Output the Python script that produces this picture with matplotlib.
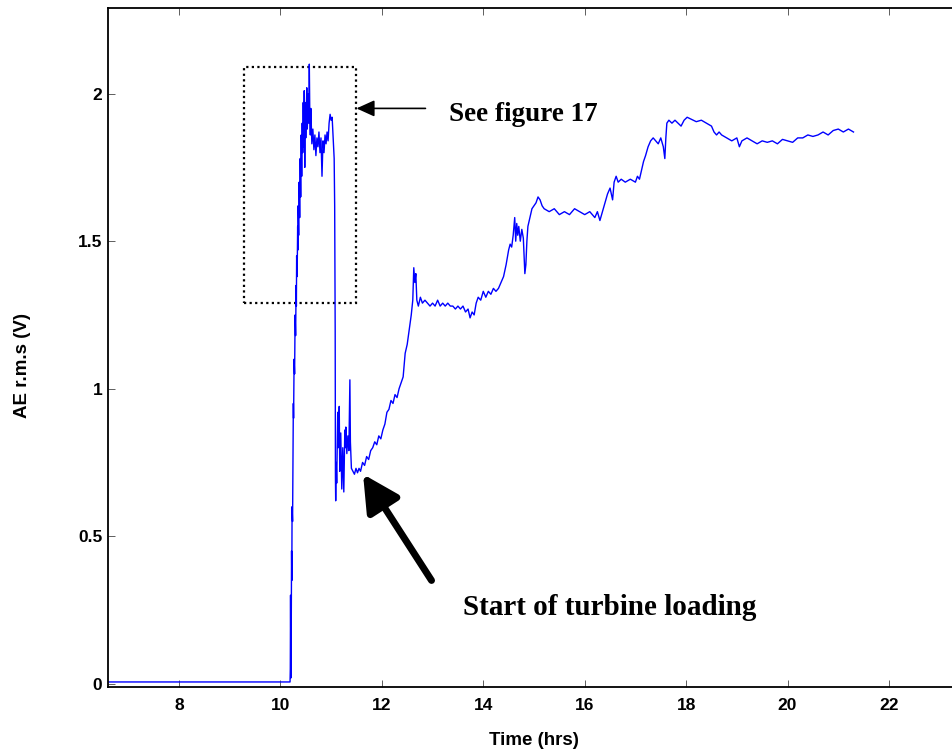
import matplotlib
matplotlib.use("Agg")
import matplotlib.pyplot as plt
from matplotlib.patches import Rectangle

# AE r.m.s trace
time_hrs = [
    6.62, 10.19, 10.195, 10.20, 10.205, 10.21, 10.215, 10.22, 10.225, 10.23,
    10.24, 10.25, 10.255, 10.26, 10.27, 10.28, 10.29, 10.30, 10.31, 10.315,
    10.32, 10.33, 10.34, 10.345, 10.35, 10.36, 10.37, 10.38, 10.39, 10.40,
    10.41, 10.42, 10.43, 10.44, 10.45, 10.46, 10.47, 10.48, 10.49, 10.50,
    10.52, 10.53, 10.55, 10.56, 10.57, 10.58, 10.59, 10.60, 10.62, 10.64,
    10.66, 10.68, 10.70, 10.72, 10.74, 10.76, 10.78, 10.80, 10.82, 10.84,
    10.86, 10.88, 10.90, 10.92, 10.94, 10.96, 10.98, 11.00, 11.02, 11.04,
    11.06, 11.07, 11.08, 11.085, 11.09, 11.10, 11.11, 11.13, 11.14, 11.16,
    11.17, 11.19, 11.21, 11.23, 11.25, 11.27, 11.28, 11.29, 11.31, 11.33,
    11.35, 11.37, 11.38, 11.40, 11.43, 11.46, 11.49, 11.52, 11.55, 11.58,
    11.62, 11.66, 11.70, 11.74, 11.78, 11.82, 11.86, 11.90, 11.94, 11.98,
    12.02, 12.06, 12.10, 12.14, 12.18, 12.22, 12.26, 12.30, 12.34, 12.38,
    12.42, 12.46, 12.50, 12.54, 12.58, 12.61, 12.63, 12.65, 12.67, 12.69,
    12.72, 12.76, 12.80, 12.85, 12.90, 12.95, 13.00, 13.05, 13.10, 13.15,
    13.20, 13.25, 13.30, 13.35, 13.40, 13.45, 13.50, 13.55, 13.60, 13.65,
    13.70, 13.74, 13.78, 13.82, 13.86, 13.90, 13.95, 14.00, 14.05, 14.10,
    14.15, 14.20, 14.25, 14.30, 14.35, 14.40, 14.45, 14.50, 14.53, 14.56,
    14.59, 14.62, 14.64, 14.66, 14.68, 14.70, 14.73, 14.76, 14.79, 14.82,
    14.84, 14.86, 14.88, 14.92, 14.96, 15.00, 15.04, 15.08, 15.12, 15.16,
    15.20, 15.30, 15.40, 15.50, 15.60, 15.70, 15.80, 15.90, 16.00, 16.10,
    16.20, 16.25, 16.30, 16.35, 16.40, 16.45, 16.50, 16.55, 16.58, 16.62,
    16.66, 16.72, 16.80, 16.90, 17.00, 17.04, 17.08, 17.12, 17.16, 17.20,
    17.25, 17.30, 17.35, 17.40, 17.45, 17.50, 17.55, 17.58, 17.60, 17.62,
    17.66, 17.72, 17.78, 17.84, 17.90, 17.96, 18.02, 18.08, 18.14, 18.20,
    18.30, 18.40, 18.50, 18.55, 18.60, 18.65, 18.70, 18.80, 18.90, 19.00,
    19.05, 19.10, 19.20, 19.30, 19.40, 19.50, 19.60, 19.70, 19.80, 19.90,
    20.00, 20.10, 20.20, 20.30, 20.40, 20.50, 20.60, 20.70, 20.80, 20.90,
    21.00, 21.10, 21.20, 21.30,
]
ae_rms = [
    0.006, 0.006, 0.05, 0.30, 0.10, 0.02, 0.20, 0.45, 0.35, 0.60,
    0.55, 0.85, 0.95, 0.90, 1.10, 1.05, 1.25, 1.18, 1.35, 1.28,
    1.45, 1.38, 1.55, 1.47, 1.62, 1.52, 1.70, 1.58, 1.78, 1.65,
    1.86, 1.72, 1.90, 1.80, 1.97, 1.82, 2.01, 1.75, 1.97, 1.85,
    2.02, 1.88, 2.00, 1.90, 2.10, 1.92, 1.86, 1.95, 1.83, 1.88,
    1.81, 1.86, 1.79, 1.85, 1.82, 1.87, 1.80, 1.85, 1.72, 1.84,
    1.80, 1.86, 1.83, 1.87, 1.84, 1.90, 1.93, 1.91, 1.92, 1.85,
    1.78, 1.62, 1.20, 0.70, 0.62, 0.75, 0.68, 0.92, 0.80, 0.94,
    0.72, 0.85, 0.66, 0.80, 0.65, 0.86, 0.80, 0.87, 0.78, 0.84,
    0.79, 1.03, 0.82, 0.73, 0.72, 0.71, 0.73, 0.715, 0.73, 0.72,
    0.75, 0.74, 0.77, 0.76, 0.79, 0.80, 0.82, 0.81, 0.84, 0.83,
    0.86, 0.88, 0.92, 0.93, 0.96, 0.95, 0.98, 0.97, 1.00, 1.02,
    1.04, 1.12, 1.15, 1.20, 1.25, 1.30, 1.41, 1.36, 1.39, 1.30,
    1.28, 1.31, 1.29, 1.30, 1.29, 1.28, 1.29, 1.28, 1.30, 1.28,
    1.29, 1.28, 1.29, 1.28, 1.28, 1.27, 1.28, 1.27, 1.28, 1.26,
    1.27, 1.24, 1.26, 1.25, 1.29, 1.31, 1.30, 1.33, 1.31, 1.33,
    1.32, 1.34, 1.33, 1.34, 1.36, 1.38, 1.42, 1.47, 1.49, 1.48,
    1.52, 1.58, 1.50, 1.56, 1.52, 1.55, 1.50, 1.54, 1.51, 1.39,
    1.42, 1.50, 1.55, 1.58, 1.61, 1.62, 1.63, 1.65, 1.64, 1.62,
    1.61, 1.60, 1.61, 1.59, 1.60, 1.59, 1.61, 1.60, 1.59, 1.60,
    1.58, 1.60, 1.57, 1.60, 1.63, 1.66, 1.68, 1.64, 1.70, 1.72,
    1.70, 1.71, 1.70, 1.71, 1.70, 1.72, 1.71, 1.74, 1.77, 1.79,
    1.82, 1.84, 1.85, 1.84, 1.83, 1.85, 1.82, 1.78, 1.85, 1.90,
    1.91, 1.90, 1.91, 1.90, 1.89, 1.91, 1.92, 1.915, 1.91, 1.905,
    1.91, 1.90, 1.89, 1.87, 1.86, 1.87, 1.86, 1.85, 1.84, 1.85,
    1.82, 1.84, 1.85, 1.84, 1.83, 1.84, 1.835, 1.84, 1.83, 1.845,
    1.84, 1.835, 1.85, 1.85, 1.86, 1.855, 1.86, 1.87, 1.86, 1.875,
    1.88, 1.87, 1.88, 1.87,
]

x_ticks = [8, 10, 12, 14, 16, 18, 20, 22]
y_ticks = [0, 0.5, 1, 1.5, 2]
y_tick_labels = ["0", "0.5", "1", "1.5", "2"]

fig = plt.figure(figsize=(9.53, 7.56), dpi=100)
ax = fig.add_axes([0.1133, 0.0913, 0.8967, 0.898])

ax.plot(time_hrs, ae_rms, color="#0000ff", linewidth=1.0)

ax.set_xlim(6.6, 23.45)
ax.set_ylim(-0.011, 2.29)
ax.set_xticks(x_ticks)
ax.set_yticks(y_ticks)
ax.set_yticklabels(y_tick_labels)

sans = "Liberation Sans"
serif = "Liberation Serif"
for lab in ax.get_xticklabels() + ax.get_yticklabels():
    lab.set_fontfamily(sans)
    lab.set_fontweight("bold")
    lab.set_fontsize(12.5)

ax.tick_params(direction="in", length=5, width=0.6, top=True, right=False,
               color="#444444")
ax.tick_params(axis="x", pad=8)
ax.tick_params(axis="y", pad=4)
for s in ["left", "bottom", "top"]:
    ax.spines[s].set_linewidth(1.3)
ax.spines["right"].set_visible(False)

ax.set_xlabel("Time (hrs)", fontfamily=sans, fontweight="bold", fontsize=13.5)
ax.set_ylabel("AE r.m.s (V)", fontfamily=sans, fontweight="bold", fontsize=13.5)
ax.xaxis.set_label_coords(0.499, -0.066)
ax.yaxis.set_label_coords(-0.0903, 0.473)

# dotted box around the region shown in figure 17
box = Rectangle((9.29, 1.29), 11.50 - 9.29, 2.09 - 1.29, fill=False,
                linestyle=(0, (1, 1.5)), linewidth=1.6, edgecolor="black")
ax.add_patch(box)

ax.annotate("", xy=(11.50, 1.95), xytext=(12.86, 1.95),
            arrowprops=dict(arrowstyle="-|>,head_length=1.1,head_width=0.5",
                            color="black", linewidth=1.2, shrinkA=0, shrinkB=0))
ax.text(13.33, 1.93, "See figure 17", fontfamily=serif, fontweight="bold",
        fontsize=19.5, va="center", ha="left")

ax.annotate("", xy=(11.63, 0.71), xytext=(12.98, 0.35),
            arrowprops=dict(arrowstyle="-|>,head_length=1.15,head_width=0.6",
                            color="black", linewidth=5, shrinkA=0, shrinkB=0,
                            mutation_scale=19))
ax.text(13.61, 0.26, "Start of turbine loading", fontfamily=serif,
        fontweight="bold", fontsize=21, va="center", ha="left")

fig.savefig("out.png", dpi=100)
